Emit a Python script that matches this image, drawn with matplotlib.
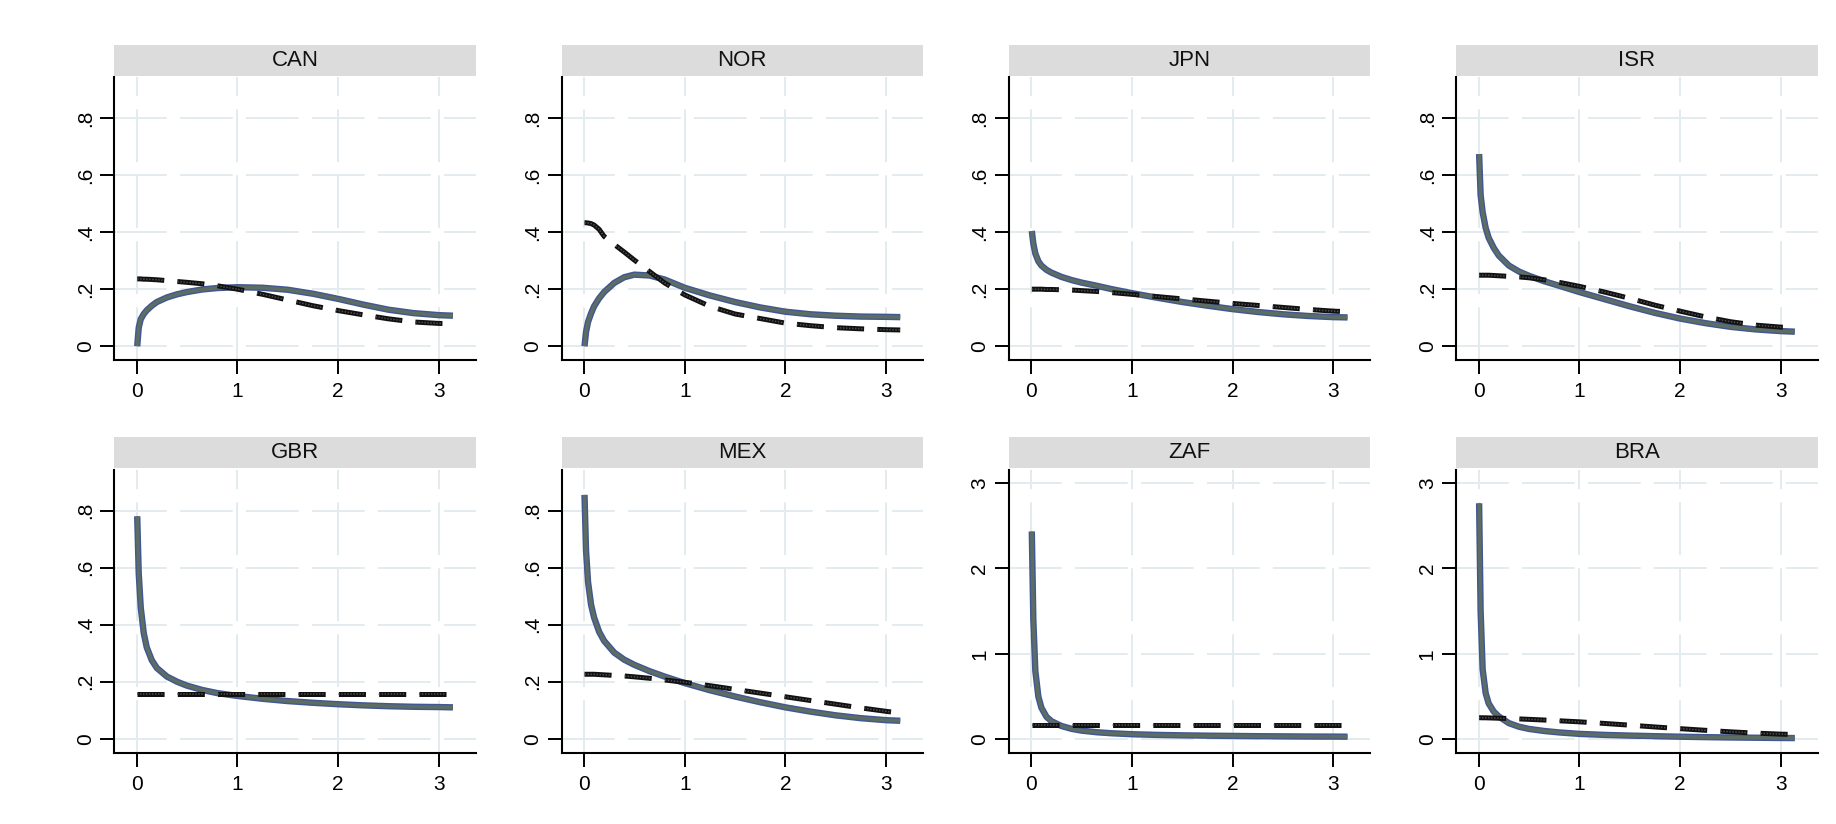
import matplotlib
matplotlib.use("Agg")
import matplotlib.pyplot as plt
from matplotlib.patches import Rectangle

plt.rcParams["font.family"] = ["Liberation Sans", "DejaVu Sans"]
plt.rcParams["lines.scale_dashes"] = False

# Horizon grid shared by all series
x = [0.005, 0.02, 0.04, 0.07, 0.1, 0.15, 0.2, 0.3, 0.4, 0.5, 0.65, 0.8,
     1.0, 1.25, 1.5, 1.75, 2.0, 2.25, 2.5, 2.75, 3.0, 3.14]

countries = ["CAN", "NOR", "JPN", "ISR", "GBR", "MEX", "ZAF", "BRA"]

# Solid curves
can_solid = [0.0, 0.065, 0.095, 0.113, 0.126, 0.142, 0.155, 0.171, 0.182, 0.19, 0.199, 0.204,
             0.207, 0.205, 0.198, 0.184, 0.166, 0.146, 0.128, 0.116, 0.109, 0.107]
nor_solid = [0.0, 0.05, 0.085, 0.115, 0.14, 0.168, 0.19, 0.222, 0.242, 0.251, 0.248, 0.234,
             0.205, 0.178, 0.155, 0.136, 0.121, 0.112, 0.107, 0.104, 0.103, 0.102]
jpn_solid = [0.404, 0.36, 0.325, 0.298, 0.283, 0.268, 0.258, 0.243, 0.232, 0.223, 0.212, 0.2,
             0.186, 0.17, 0.155, 0.142, 0.13, 0.12, 0.112, 0.106, 0.102, 0.101]
isr_solid = [0.674, 0.53, 0.47, 0.415, 0.38, 0.345, 0.318, 0.283, 0.262, 0.247, 0.228, 0.212,
             0.19, 0.165, 0.14, 0.117, 0.097, 0.081, 0.068, 0.059, 0.053, 0.051]
gbr_solid = [0.78, 0.58, 0.46, 0.37, 0.32, 0.275, 0.248, 0.218, 0.2, 0.186, 0.171, 0.16,
             0.15, 0.14, 0.132, 0.126, 0.121, 0.117, 0.114, 0.112, 0.111, 0.11]
mex_solid = [0.855, 0.66, 0.55, 0.47, 0.425, 0.375, 0.343, 0.302, 0.277, 0.259, 0.237, 0.218,
             0.195, 0.17, 0.148, 0.128, 0.11, 0.095, 0.082, 0.072, 0.065, 0.063]
zaf_solid = [2.43, 1.4, 0.8, 0.5, 0.37, 0.265, 0.212, 0.156, 0.123, 0.102, 0.083, 0.071,
             0.06, 0.052, 0.047, 0.043, 0.04, 0.037, 0.035, 0.033, 0.032, 0.031]
bra_solid = [2.76, 1.5, 0.82, 0.54, 0.42, 0.325, 0.268, 0.19, 0.148, 0.122, 0.098, 0.081,
             0.064, 0.052, 0.044, 0.037, 0.031, 0.026, 0.022, 0.019, 0.016, 0.015]

# Dashed curves
can_dash = [0.236, 0.236, 0.236, 0.235, 0.235, 0.234, 0.233, 0.23, 0.227, 0.224, 0.219, 0.212,
            0.2, 0.182, 0.162, 0.142, 0.125, 0.11, 0.096, 0.085, 0.08, 0.079]
nor_dash = [0.433, 0.433, 0.432, 0.43, 0.425, 0.41, 0.385, 0.357, 0.33, 0.302, 0.262, 0.222,
            0.18, 0.14, 0.113, 0.097, 0.081, 0.072, 0.065, 0.061, 0.058, 0.057]
jpn_dash = [0.2, 0.2, 0.2, 0.2, 0.2, 0.199, 0.199, 0.198, 0.197, 0.195, 0.192, 0.188,
            0.182, 0.174, 0.166, 0.158, 0.15, 0.143, 0.136, 0.129, 0.123, 0.121]
isr_dash = [0.249, 0.249, 0.249, 0.249, 0.249, 0.248, 0.247, 0.245, 0.243, 0.24, 0.233, 0.224,
            0.21, 0.19, 0.168, 0.144, 0.123, 0.103, 0.086, 0.074, 0.067, 0.066]
gbr_dash = [0.157] * 22
mex_dash = [0.226, 0.226, 0.226, 0.226, 0.226, 0.225, 0.224, 0.222, 0.22, 0.217, 0.212, 0.206,
            0.198, 0.186, 0.173, 0.16, 0.147, 0.134, 0.121, 0.108, 0.096, 0.09]
zaf_dash = [0.165] * 22
bra_dash = [0.253, 0.253, 0.252, 0.252, 0.251, 0.249, 0.247, 0.244, 0.239, 0.234, 0.226, 0.217,
            0.205, 0.186, 0.166, 0.145, 0.125, 0.106, 0.088, 0.073, 0.061, 0.057]

solid = [can_solid, nor_solid, jpn_solid, isr_solid, gbr_solid, mex_solid, zaf_solid, bra_solid]
dashed = [can_dash, nor_dash, jpn_dash, isr_dash, gbr_dash, mex_dash, zaf_dash, bra_dash]

xticks = [0, 1, 2, 3]
small_yticks = [0, 0.2, 0.4, 0.6, 0.8]
small_ylabels = ["0", ".2", ".4", ".6", ".8"]
big_yticks = [0, 1, 2, 3]
big_ylabels = ["0", "1", "2", "3"]
big_scale = {"ZAF", "BRA"}

W, H = 1836, 824
fig = plt.figure(figsize=(W / 100, H / 100), dpi=100)
fig.patch.set_facecolor("white")

col_left = [114.3, 561.6, 1008.9, 1456.2]
ax_w = 361.4
row_top = [77, 469.5]
ax_h = 283.2
strip_h = 31.0

DASH_ON, DASH_OFF = 19.5, 9.5
# fine speckle inside each dash, same period as the dash pattern
pitch = DASH_ON / 9
speckle = [1.0, pitch - 1.0] * 8 + [1.0, pitch - 1.0 + DASH_OFF]

for i, name in enumerate(countries):
    r, c = divmod(i, 4)
    left = col_left[c] / W
    bottom = 1 - (row_top[r] + ax_h) / H
    ax = fig.add_axes([left, bottom, ax_w / W, ax_h / H])

    ax.set_xlim(-0.2225, 3.366)
    if name in big_scale:
        ax.set_ylim(-0.156, 3.155)
        ax.set_yticks(big_yticks)
        ax.set_yticklabels(big_ylabels)
    else:
        ax.set_ylim(-0.049, 0.944)
        ax.set_yticks(small_yticks)
        ax.set_yticklabels(small_ylabels)
    ax.set_xticks(xticks)
    ax.set_xticklabels([str(t) for t in xticks])

    ax.grid(True, color="#e4ebee", linewidth=1.4, linestyle=(0, (38, 9.5)))
    ax.set_axisbelow(True)

    for s in ("top", "right"):
        ax.spines[s].set_visible(False)
    for s in ("left", "bottom"):
        ax.spines[s].set_linewidth(1.5)
        ax.spines[s].set_color("black")

    ax.tick_params(axis="both", direction="out", length=10, width=1.4,
                   labelsize=15, colors="black")
    ax.tick_params(axis="x", pad=6)
    ax.tick_params(axis="y", pad=4)
    for lab in ax.get_yticklabels():
        lab.set_rotation(90)
        lab.set_va("center")
        lab.set_ha("right")

    # Thick two-tone solid curve
    ax.plot(x, solid[i], color="#3f5794", linewidth=4.6, solid_capstyle="butt",
            solid_joinstyle="round", zorder=3)
    ax.plot(x, solid[i], color="#5d6d63", linewidth=2.6, solid_capstyle="butt",
            solid_joinstyle="round", zorder=4)
    # Dashed comparison curve
    ax.plot(x, dashed[i], color="#111111", linewidth=3.6,
            linestyle=(0, (DASH_ON, DASH_OFF)), dash_capstyle="butt", zorder=5)
    ax.plot(x, dashed[i], color="#505050", linewidth=1.1,
            linestyle=(0, speckle), dash_capstyle="butt", zorder=6)

    # Grey header strip with the country name
    hs = strip_h / ax_h
    ax.add_patch(Rectangle((0, 1.004), 1, hs, transform=ax.transAxes,
                           facecolor="#dcdcdc", edgecolor="none", clip_on=False))
    ax.text(0.5, 1.004 + hs / 2, name, transform=ax.transAxes, ha="center",
            va="center", fontsize=16, color="#111111")

fig.savefig("out.png", dpi=100, facecolor="white")
